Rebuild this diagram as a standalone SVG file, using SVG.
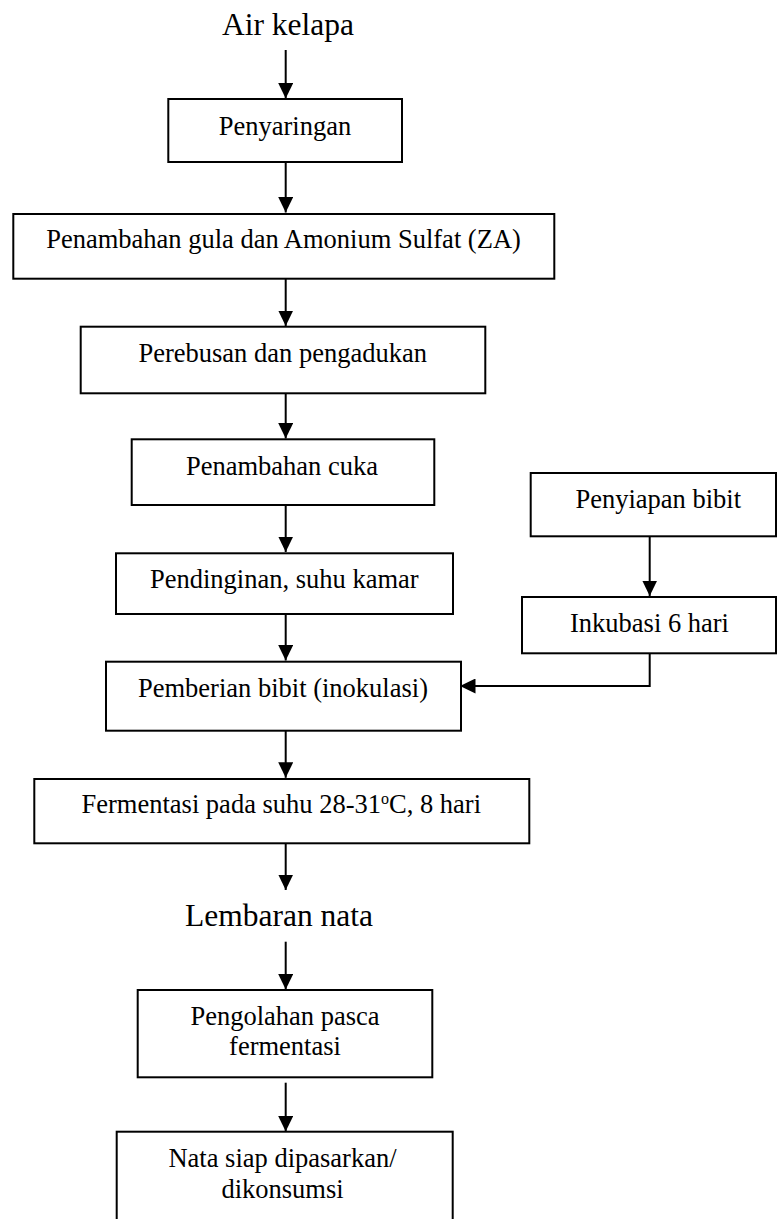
<svg xmlns="http://www.w3.org/2000/svg" width="777" height="1219" viewBox="0 0 777 1219">
<style>
.box{fill:#fff;stroke:#000;stroke-width:2}
.t{font-family:"Liberation Serif","Times New Roman",serif;font-size:26.5px;fill:#000;text-anchor:middle}
.big{font-size:31.5px}
.c{fill:none;stroke:#000;stroke-width:2}
</style>
<defs>
<marker id="ah" markerUnits="userSpaceOnUse" markerWidth="16" markerHeight="15" refX="15.5" refY="7.5" orient="auto">
<path d="M0,0 L15.5,7.5 L0,15 Z" fill="#000"/>
</marker>
</defs>
<rect width="777" height="1219" fill="#fff"/>
<g id="connectors">
<line class="c" x1="285.7" y1="50" x2="285.7" y2="98.5" marker-end="url(#ah)"/>
<line class="c" x1="285.7" y1="162" x2="285.7" y2="212.5" marker-end="url(#ah)"/>
<line class="c" x1="285.7" y1="279" x2="285.7" y2="326" marker-end="url(#ah)"/>
<line class="c" x1="285.7" y1="393.3" x2="285.7" y2="438.5" marker-end="url(#ah)"/>
<line class="c" x1="285.7" y1="505" x2="285.7" y2="552" marker-end="url(#ah)"/>
<line class="c" x1="285.7" y1="614" x2="285.7" y2="660.5" marker-end="url(#ah)"/>
<line class="c" x1="285.7" y1="731" x2="285.7" y2="777.8" marker-end="url(#ah)"/>
<line class="c" x1="285.7" y1="843.3" x2="285.7" y2="890" marker-end="url(#ah)"/>
<line class="c" x1="285.7" y1="941.7" x2="285.7" y2="989.5" marker-end="url(#ah)"/>
<line class="c" x1="285.7" y1="1082.7" x2="285.7" y2="1131.5" marker-end="url(#ah)"/>
<line class="c" x1="649.7" y1="536.3" x2="649.7" y2="596" marker-end="url(#ah)"/>
<polyline class="c" points="649.7,653.3 649.7,686 460,686" marker-end="url(#ah)"/>
</g>
<g id="air-kelapa"><text class="t big" x="288" y="34.5">Air kelapa</text></g>
<g id="penyaringan"><rect class="box" x="168.3" y="99" width="233.7" height="63"/><text class="t" x="285" y="135">Penyaringan</text></g>
<g id="penambahan-gula"><rect class="box" x="13.3" y="214" width="541" height="64.7"/><text class="t" x="283.5" y="248.3">Penambahan gula dan Amonium Sulfat (ZA)</text></g>
<g id="perebusan"><rect class="box" x="80.7" y="326.7" width="404.6" height="66.6"/><text class="t" x="282.7" y="361.7">Perebusan dan pengadukan</text></g>
<g id="penambahan-cuka"><rect class="box" x="131.7" y="439.3" width="302.6" height="65.7"/><text class="t" x="282" y="475">Penambahan cuka</text></g>
<g id="pendinginan"><rect class="box" x="116" y="553.3" width="337" height="60.7"/><text class="t" x="284.3" y="587.7">Pendinginan, suhu kamar</text></g>
<g id="pemberian-bibit"><rect class="box" x="106" y="661.7" width="355" height="69"/><text class="t" x="283" y="696.7">Pemberian bibit (inokulasi)</text></g>
<g id="fermentasi"><rect class="box" x="34.3" y="779" width="495" height="64.3"/><text class="t" x="81.5" y="813.3" style="text-anchor:start">Fermentasi pada suhu 28-31<tspan font-size="16" dy="-9.5">o</tspan><tspan dy="9.5">C, 8 hari</tspan></text></g>
<g id="lembaran-nata"><text class="t big" x="279" y="926">Lembaran nata</text></g>
<g id="pengolahan"><rect class="box" x="137.7" y="990" width="294.6" height="87.3"/><text class="t" x="285" y="1025">Pengolahan pasca</text><text class="t" x="285" y="1055">fermentasi</text></g>
<g id="nata-siap"><rect class="box" x="116.7" y="1131.7" width="336" height="120"/><text class="t" x="282.5" y="1166.7">Nata siap dipasarkan/</text><text class="t" x="282.5" y="1198.3">dikonsumsi</text></g>
<g id="penyiapan-bibit"><rect class="box" x="530.7" y="473" width="245.3" height="63.3"/><text class="t" x="658.3" y="507.7">Penyiapan bibit</text></g>
<g id="inkubasi"><rect class="box" x="522" y="597" width="254" height="56.3"/><text class="t" x="649.5" y="631.7">Inkubasi 6 hari</text></g>
</svg>
